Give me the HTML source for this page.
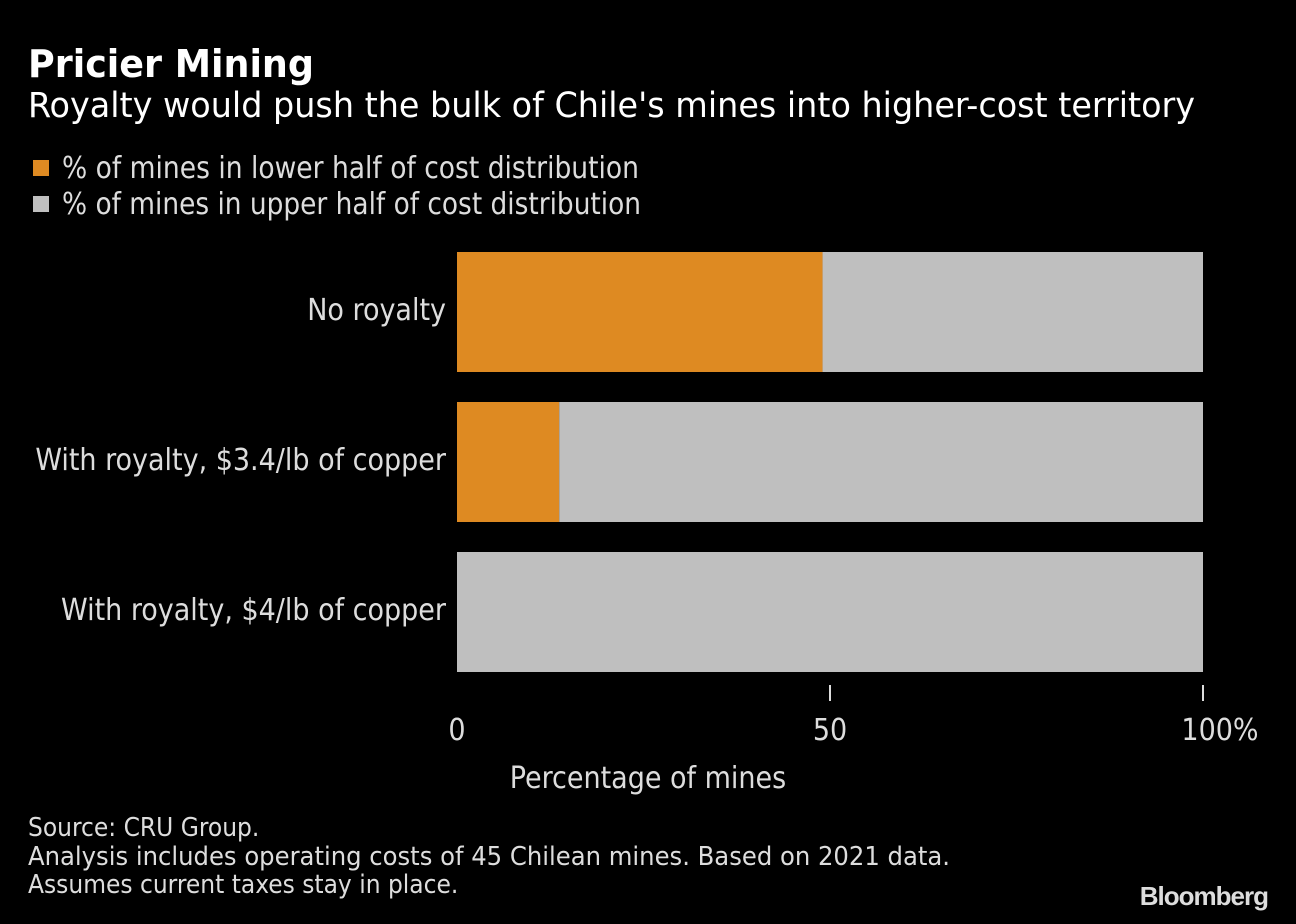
<!DOCTYPE html>
<html><head><meta charset="utf-8"><style>
html,body{margin:0;padding:0;background:#000;}
svg{display:block;font-family:"DejaVu Sans Condensed","DejaVu Sans","Liberation Sans",sans-serif;}
</style></head><body>
<svg id="chart" width="1296" height="924" viewBox="0 0 1296 924">
<rect width="1296" height="924" fill="#000"/>
<text x="28" y="77" font-size="38" font-weight="bold" fill="#fff" textLength="286" lengthAdjust="spacingAndGlyphs">Pricier Mining</text>
<text x="28" y="117" font-size="35" fill="#fff" textLength="1167" lengthAdjust="spacingAndGlyphs">Royalty would push the bulk of Chile's mines into higher-cost territory</text>
<g>
<rect x="33" y="160" width="16" height="16" fill="#de8a22"/>
<text x="62" y="178" font-size="30" fill="#ddd" textLength="577" lengthAdjust="spacingAndGlyphs">% of mines in lower half of cost distribution</text>
<rect x="33" y="196" width="16" height="16" fill="#bfbfbf"/>
<text x="62" y="214" font-size="30" fill="#ddd" textLength="579" lengthAdjust="spacingAndGlyphs">% of mines in upper half of cost distribution</text>
</g>
<g id="plot"></g>
<text x="648" y="788" font-size="30" fill="#ddd" text-anchor="middle">Percentage of mines</text>
<g font-size="26" fill="#ddd">
<text x="28" y="836">Source: CRU Group.</text>
<text x="28" y="865" textLength="922" lengthAdjust="spacingAndGlyphs">Analysis includes operating costs of 45 Chilean mines. Based on 2021 data.</text>
<text x="28" y="893">Assumes current taxes stay in place.</text>
</g>
<text x="1268" y="905" font-size="26" font-weight="bold" fill="#ddd" text-anchor="end" font-family="Liberation Sans, sans-serif" letter-spacing="-1">Bloomberg</text>
</svg>
<script>
const categories = ["No royalty", "With royalty, $3.4/lb of copper", "With royalty, $4/lb of copper"];
const lowerHalf = [49, 13.7, 0];
const upperHalf = [51, 86.3, 100];
const tickValues = [0, 50, 100];
const tickLabels = ["0", "50", "100%"];

const NS = "http://www.w3.org/2000/svg";
const plot = document.getElementById("plot");
const x0 = 457, x1 = 1203;
const xs = v => x0 + (x1 - x0) * v / 100;
const bandTop = 252, bandStep = 150, barH = 120;
function mk(tag, attrs) {
  const e = document.createElementNS(NS, tag);
  for (const k in attrs) e.setAttribute(k, attrs[k]);
  plot.appendChild(e);
  return e;
}
categories.forEach((c, i) => {
  const y = bandTop + i * bandStep;
  const lbl = mk("text", {x: 446, y: y + 68, "font-size": 30, fill: "#ddd", "text-anchor": "end"});
  lbl.textContent = c;
  
  
  if (lowerHalf[i] > 0) {
    const r = mk("rect", {x: xs(0), y: y, width: xs(lowerHalf[i]) - xs(0), height: barH, fill: "#de8a22"});
    
    
  }
  const r2 = mk("rect", {x: xs(lowerHalf[i]), y: y, width: xs(lowerHalf[i] + upperHalf[i]) - xs(lowerHalf[i]), height: barH, fill: "#bfbfbf"});
  
  
});
tickValues.forEach((v, i) => {
  if (v > 0) {
    const t = mk("line", {x1: xs(v), x2: xs(v), y1: 685, y2: 701, stroke: "#ddd", "stroke-width": 2});
    
    
  }
  const lab = mk("text", {x: xs(v) + (i === tickValues.length - 1 ? 17 : 0), y: 740, "font-size": 30, fill: "#ddd", "text-anchor": "middle"});
  lab.textContent = tickLabels[i];
  
  
});
</script>
</body></html>
